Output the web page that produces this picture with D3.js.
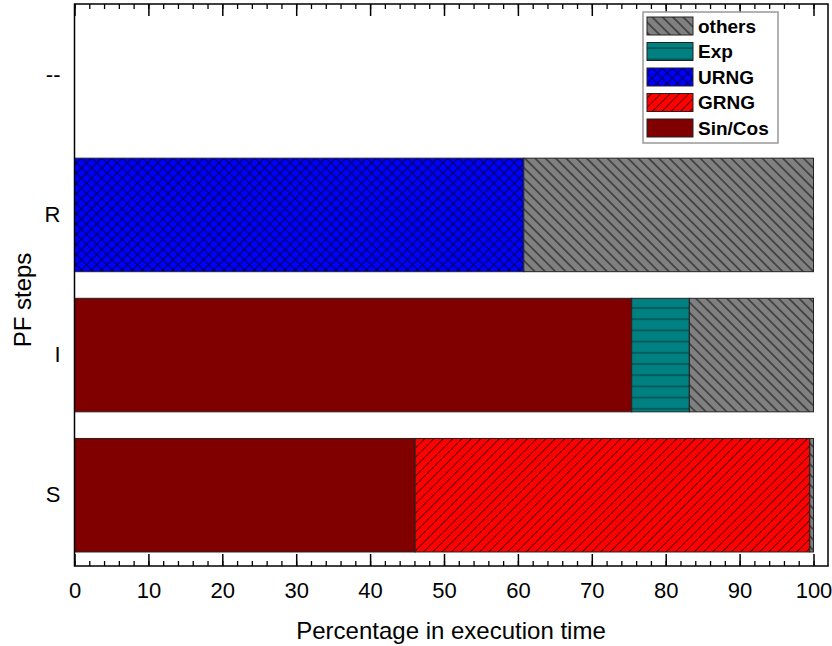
<!DOCTYPE html>
<html>
<head>
<meta charset="utf-8">
<script src="https://cdn.jsdelivr.net/npm/d3@7"></script>
<style>
  body { margin: 0; background: #fff; }
  svg text { font-family: "Liberation Sans", Arial, sans-serif; }
</style>
</head>
<body>
<svg id="chart" width="832" height="646"></svg>
<script>
// PF steps, top to bottom
var steps = ['--', 'R', 'I', 'S'];
// stack order, left to right
var parts = ['Sin/Cos', 'GRNG', 'URNG', 'Exp', 'others'];
// legend order, top to bottom
var legendOrder = ['others', 'Exp', 'URNG', 'GRNG', 'Sin/Cos'];

// percentage of execution time per step
var sinCos = [0, 0, 75.4, 46.1];
var grng   = [0, 0, 0, 53.4];
var urng   = [0, 60.8, 0, 0];
var expo   = [0, 0, 7.8, 0];
var others = [0, 39.2, 16.8, 0.5];

var xTicks = [0, 10, 20, 30, 40, 50, 60, 70, 80, 90, 100];

var svg = d3.select('#chart');
var mLeft = 74.5, mRight = 813.5, mTop = 4, mBottom = 566, frameRight = 828;

var x = d3.scaleLinear().domain([0, 100]).range([mLeft, mRight]);
var y = d3.scaleBand().domain(steps).range([mTop, mBottom])
  .paddingInner(0.19).paddingOuter(0.1);

// hatch patterns: a tile with lines through its middle, rotated
var defs = svg.append('defs');
function hatch(id, bg, size, angle, cross, stroke) {
  var h = size / 2;
  var p = defs.append('pattern').attr('id', id)
    .attr('patternUnits', 'userSpaceOnUse')
    .attr('width', size).attr('height', size)
    .attr('patternTransform', 'rotate(' + angle + ')');
  p.append('rect').attr('width', size).attr('height', size).attr('fill', bg);
  var d = 'M0,' + h + 'H' + size;
  if (cross) d += 'M' + h + ',0V' + size;
  p.append('path').attr('d', d).attr('stroke', stroke)
    .attr('stroke-width', 1).attr('fill', 'none');
}
hatch('p-others', '#808080', 7.3, 45, false, '#111');
hatch('p-grng', '#ff0000', 6.6, -45, false, '#5a0000');
hatch('p-urng', '#0000ff', 7.2, 45, true, '#000040');
hatch('p-exp', '#008080', 11.2, 0, false, '#003c3c');

var fills = {
  'Sin/Cos': '#800000',
  'GRNG': 'url(#p-grng)',
  'URNG': 'url(#p-urng)',
  'Exp': 'url(#p-exp)',
  'others': 'url(#p-others)'
};

var table = steps.map(function(s, i) {
  return { step: s, 'Sin/Cos': sinCos[i], 'GRNG': grng[i], 'URNG': urng[i], 'Exp': expo[i], 'others': others[i] };
});
var stacked = d3.stack().keys(parts)(table);

svg.append('g').selectAll('g')
  .data(stacked)
  .join('g')
  .attr('fill', function(d) { return fills[d.key]; })
  .selectAll('rect')
  .data(function(d) { return d.filter(function(v) { return v[1] - v[0] > 0; }); })
  .join('rect')
  .attr('x', function(d) { return x(d[0]); })
  .attr('width', function(d) { return x(d[1]) - x(d[0]); })
  .attr('y', function(d) { return y(d.data.step); })
  .attr('height', y.bandwidth())
  .attr('stroke', '#222')
  .attr('stroke-width', 1);

// frame
svg.append('rect').attr('x', mLeft).attr('y', mTop)
  .attr('width', frameRight - mLeft).attr('height', mBottom - mTop)
  .attr('fill', 'none').attr('stroke', '#000').attr('stroke-width', 1.5);

// bottom axis, ticks pointing inward
var minor = d3.range(0, 101, 2);
svg.append('g').attr('transform', 'translate(0,' + mBottom + ')')
  .call(d3.axisBottom(x).tickValues(minor).tickSizeInner(-5).tickSizeOuter(0).tickFormat(''))
  .call(function(g) { g.select('.domain').remove(); g.selectAll('line').attr('stroke-width', 1.3); });
var xAxis = svg.append('g').attr('transform', 'translate(0,' + mBottom + ')')
  .call(d3.axisBottom(x).tickValues(xTicks).tickSizeInner(-12).tickSizeOuter(0).tickPadding(16).tickFormat(d3.format('d')));
xAxis.select('.domain').remove();
xAxis.selectAll('line').attr('stroke-width', 1.5);
xAxis.selectAll('text').attr('font-size', 22).attr('fill', '#000')
  .style('font-family', '"Liberation Sans", Arial, sans-serif');

// top mirror ticks
svg.append('g').attr('transform', 'translate(0,' + mTop + ')')
  .call(d3.axisTop(x).tickValues(minor).tickSizeInner(-5).tickSizeOuter(0).tickFormat(''))
  .call(function(g) { g.select('.domain').remove(); g.selectAll('line').attr('stroke-width', 1.3); });
svg.append('g').attr('transform', 'translate(0,' + mTop + ')')
  .call(d3.axisTop(x).tickValues(xTicks).tickSizeInner(-12).tickSizeOuter(0).tickFormat(''))
  .call(function(g) { g.select('.domain').remove(); g.selectAll('line').attr('stroke-width', 1.5); });

// left axis labels
var yAxis = svg.append('g').attr('transform', 'translate(' + mLeft + ',0)')
  .call(d3.axisLeft(y).tickSize(0).tickPadding(14));
yAxis.select('.domain').remove();
yAxis.selectAll('text').attr('font-size', 22).attr('fill', '#000')
  .style('font-family', '"Liberation Sans", Arial, sans-serif');

// axis titles
svg.append('text').attr('x', (mLeft + mRight) / 2 + 7).attr('y', 639)
  .attr('text-anchor', 'middle').attr('font-size', 24).text('Percentage in execution time');
svg.append('text').attr('transform', 'translate(31,300) rotate(-90)')
  .attr('text-anchor', 'middle').attr('font-size', 24).text('PF steps');

// legend
var lg = svg.append('g').attr('transform', 'translate(643,12)');
lg.append('rect').attr('width', 135).attr('height', 131)
  .attr('fill', '#fff').attr('stroke', '#999').attr('stroke-width', 1.5);
var item = lg.selectAll('g.item').data(legendOrder).join('g')
  .attr('class', 'item')
  .attr('transform', function(d, i) { return 'translate(4,' + (5 + i * 25.5) + ')'; });
item.append('rect').attr('width', 46).attr('height', 18)
  .attr('fill', function(d) { return fills[d]; })
  .attr('stroke', '#222').attr('stroke-width', 1);
item.append('text').attr('x', 51).attr('y', 15.5)
  .attr('font-size', 19).attr('font-weight', 'bold').text(function(d) { return d; });
</script>
</body>
</html>
